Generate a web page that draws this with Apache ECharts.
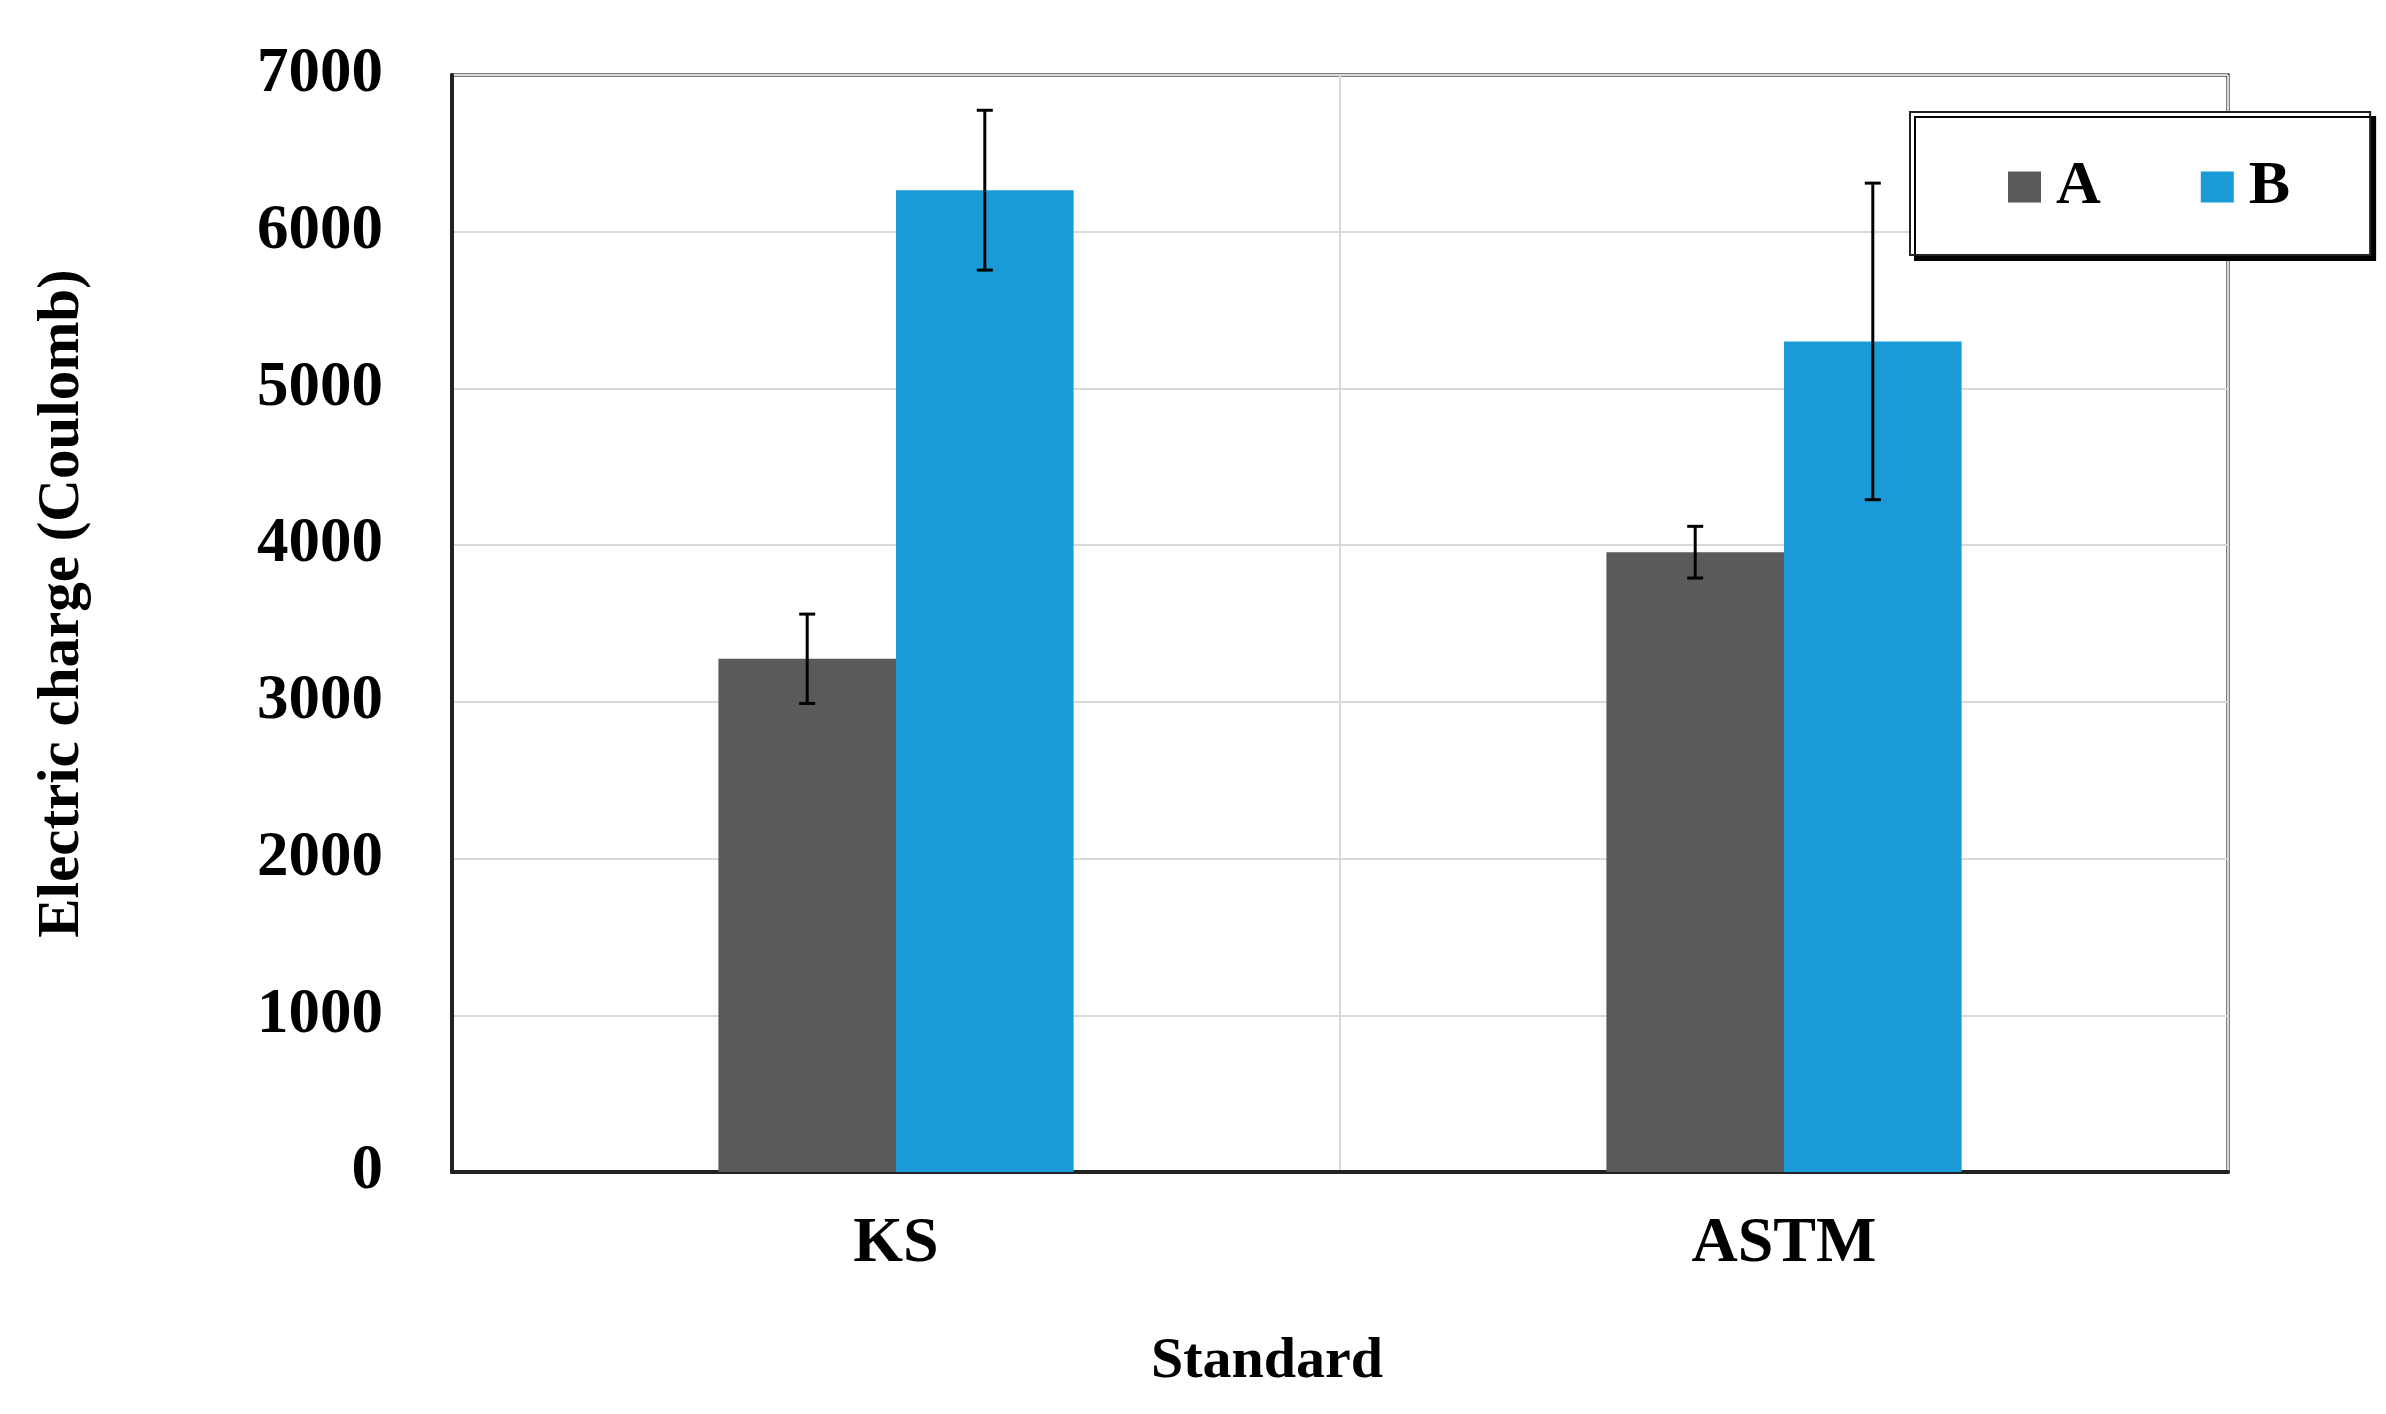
<!DOCTYPE html>
<html>
<head>
<meta charset="utf-8">
<script src="https://cdn.jsdelivr.net/npm/echarts@6/dist/echarts.min.js"></script>
<style>
html,body{margin:0;padding:0;background:#fff;}
#chart{width:2386px;height:1414px;}
</style>
</head>
<body>
<div id="chart"></div>
<script>
const categories = ['KS', 'ASTM'];
const seriesNames = ['A', 'B'];
const valuesA = [3275, 3955];
const valuesB = [6265, 5300];
const errA = [285, 165];
const errB = [510, 1010];
const yTicks = [0, 1000, 2000, 3000, 4000, 5000, 6000, 7000];

const FONT = "'Liberation Serif', 'Times New Roman', serif";
const colorA = '#5a5a5a';
const colorB = '#1a9bd7';

const chart = echarts.init(document.getElementById('chart'));

function errorSeries(vals, errs, side) {
  return {
    type: 'custom',
    name: 'err' + side,
    silent: true,
    z: 10,
    data: vals.map((v, i) => [i, v - errs[i], v + errs[i]]),
    renderItem: function (params, api) {
      const idx = api.value(0);
      const lo = api.coord([idx, api.value(1)]);
      const hi = api.coord([idx, api.value(2)]);
      const band = api.size([1, 0])[0];
      const x = lo[0] + side * band * 0.1;
      const cap = 8;
      const style = { stroke: '#000', lineWidth: 3 };
      return {
        type: 'group',
        children: [
          { type: 'line', shape: { x1: x, y1: lo[1], x2: x, y2: hi[1] }, style: style },
          { type: 'line', shape: { x1: x - cap, y1: lo[1], x2: x + cap, y2: lo[1] }, style: style },
          { type: 'line', shape: { x1: x - cap, y1: hi[1], x2: x + cap, y2: hi[1] }, style: style }
        ]
      };
    }
  };
}

chart.setOption({
  animation: false,
  backgroundColor: '#fff',
  grid: {
    left: 452, right: 158, top: 75, bottom: 242,
    outerBoundsMode: 'none',
    containLabel: false,
    show: true, borderColor: '#000', borderWidth: 3, backgroundColor: 'transparent'
  },
  legend: {
    data: seriesNames,
    left: 1910, top: 112,
    itemWidth: 33, itemHeight: 31,
    itemGap: 100,
    icon: 'rect',
    padding: [44, 80, 37, 98],
    backgroundColor: '#fff',
    borderColor: '#222',
    borderWidth: 2,
    shadowColor: '#000',
    shadowBlur: 0,
    shadowOffsetX: 5,
    shadowOffsetY: 5,
    textStyle: { fontFamily: FONT, fontWeight: 'bold', fontSize: 62, color: '#000', padding: [0, 0, 0, 10] }
  },
  xAxis: {
    type: 'category',
    data: categories,
    name: 'Standard',
    nameLocation: 'middle',
    nameGap: 161,
    nameTextStyle: { fontFamily: FONT, fontWeight: 'bold', fontSize: 58, color: '#000', padding: [0, 146, 0, 0] },
    axisLine: { show: true, lineStyle: { color: '#222', width: 4 } },
    axisTick: { show: false },
    axisLabel: { fontFamily: FONT, fontWeight: 'bold', fontSize: 64, color: '#000', margin: 40 },
    splitLine: { show: true, lineStyle: { color: '#d9d9d9', width: 2 } }
  },
  yAxis: {
    type: 'value',
    min: 0, max: 7000, interval: 1000,
    name: 'Electric charge (Coulomb)',
    nameLocation: 'middle',
    nameGap: 360,
    nameRotate: 90,
    nameTextStyle: { fontFamily: FONT, fontWeight: 'bold', fontSize: 59, color: '#000', padding: [0, 0, 0, 40] },
    axisLine: { show: true, lineStyle: { color: '#222', width: 4 } },
    axisTick: { show: false },
    axisLabel: {
      fontFamily: FONT, fontWeight: 'bold', fontSize: 63, color: '#000', margin: 69,
      formatter: function (v) { return yTicks.indexOf(v) >= 0 ? String(v) : ''; }
    },
    splitLine: { show: true, lineStyle: { color: '#d9d9d9', width: 2 } }
  },
  series: [
    { name: 'A', type: 'bar', data: valuesA, barWidth: '20%', barGap: '0%', itemStyle: { color: colorA } },
    { name: 'B', type: 'bar', data: valuesB, barWidth: '20%', barGap: '0%', itemStyle: { color: colorB } },
    errorSeries(valuesA, errA, -1),
    errorSeries(valuesB, errB, 1)
  ]
});
</script>
</body>
</html>
